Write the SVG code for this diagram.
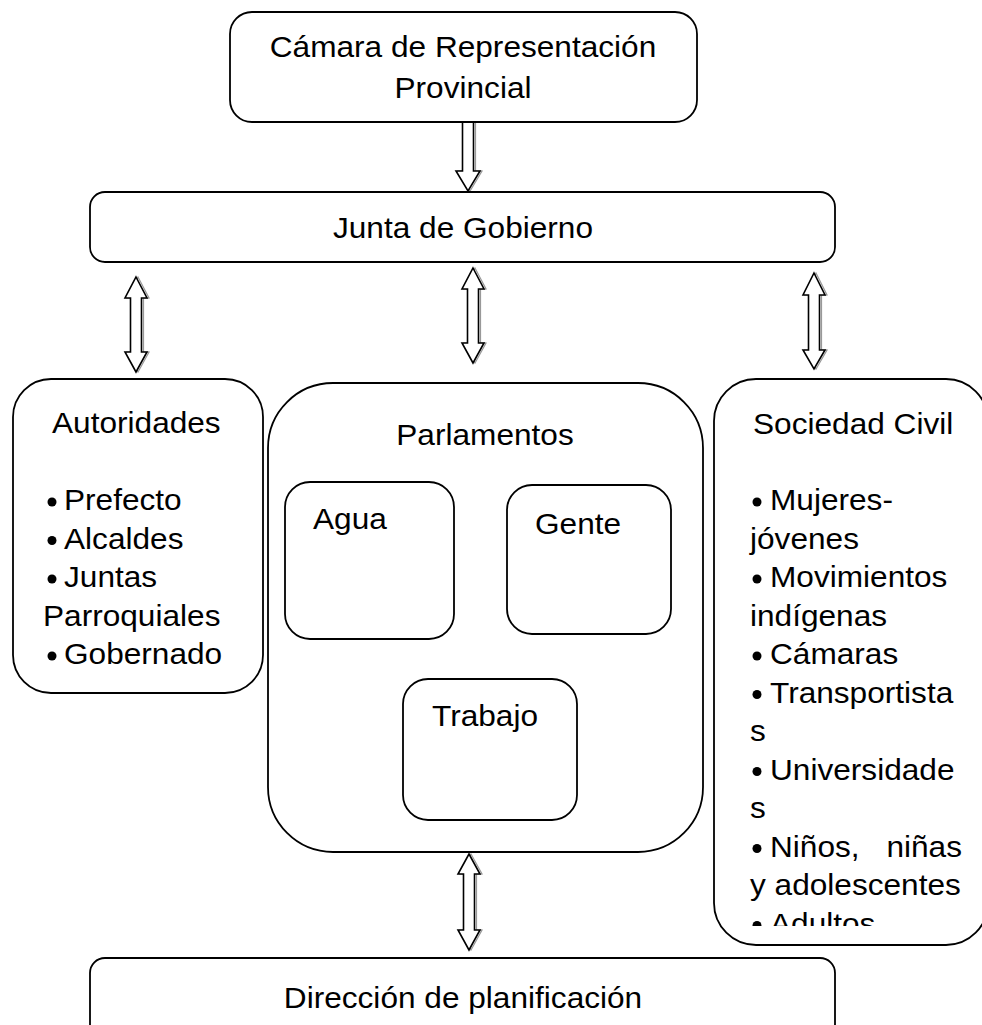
<svg xmlns="http://www.w3.org/2000/svg" width="982" height="1025" viewBox="0 0 982 1025">
<style>
.box{fill:#fff;stroke:#000;stroke-width:1.8}
.t{font-family:"Liberation Sans",Arial,sans-serif;font-size:29px;fill:#000}
.m{text-anchor:middle}
.e{text-anchor:end}
.arr{fill:#fff;stroke:#000;stroke-width:1.6;stroke-linejoin:miter}
.sh{fill:none;stroke:#999;stroke-width:1.2}
.dot{fill:#000}
</style>
<defs>
<clipPath id="socClip"><rect x="700" y="370" width="300" height="556"/></clipPath>
</defs>
<rect width="982" height="1025" fill="#fff"/>

<g id="connectors">
<g transform="translate(2,0)" class="sh">
<polygon points="462.5,122 473.5,122 473.5,171 480,171 468,191 456,171 462.5,171"/>
<polygon points="136,277 147,298 141.5,298 141.5,352 147,352 136,372 125,352 130.5,352 130.5,298 125,298"/>
<polygon points="473,268 484,289 478.5,289 478.5,343 484,343 473,363 462,343 467.5,343 467.5,289 462,289"/>
<polygon points="814,273 825,295 819.5,295 819.5,350 825,350 814,369 803,350 808.5,350 808.5,295 803,295"/>
<polygon points="469,854 480,874 474.5,874 474.5,930 480,930 469,950 458,930 463.5,930 463.5,874 458,874"/>
</g>
<polygon class="arr" points="462.5,122 473.5,122 473.5,171 480,171 468,191 456,171 462.5,171"/>
<polygon class="arr" points="136,277 147,298 141.5,298 141.5,352 147,352 136,372 125,352 130.5,352 130.5,298 125,298"/>
<polygon class="arr" points="473,268 484,289 478.5,289 478.5,343 484,343 473,363 462,343 467.5,343 467.5,289 462,289"/>
<polygon class="arr" points="814,273 825,295 819.5,295 819.5,350 825,350 814,369 803,350 808.5,350 808.5,295 803,295"/>
<polygon class="arr" points="469,854 480,874 474.5,874 474.5,930 480,930 469,950 458,930 463.5,930 463.5,874 458,874"/>
</g>

<g id="camara">
<rect class="box" x="230" y="12" width="467" height="110" rx="22"/>
<text class="t m" transform="translate(463,57) scale(1.09,1)">Cámara de Representación</text>
<text class="t m" transform="translate(463,98) scale(1.09,1)">Provincial</text>
</g>

<g id="junta">
<rect class="box" x="90" y="192" width="745" height="70" rx="15"/>
<text class="t m" transform="translate(463,238) scale(1.09,1)">Junta de Gobierno</text>
</g>

<g id="autoridades">
<rect class="box" x="13" y="379" width="250" height="314" rx="38"/>
<text class="t" transform="translate(52,433) scale(1.09,1)">Autoridades</text>
<circle class="dot" cx="52" cy="502" r="4.5"/>
<text class="t" transform="translate(64,510) scale(1.09,1)">Prefecto</text>
<circle class="dot" cx="52" cy="540.5" r="4.5"/>
<text class="t" transform="translate(64,548.5) scale(1.09,1)">Alcaldes</text>
<circle class="dot" cx="52" cy="579" r="4.5"/>
<text class="t" transform="translate(64,587) scale(1.09,1)">Juntas</text>
<text class="t" transform="translate(43,625.5) scale(1.09,1)">Parroquiales</text>
<circle class="dot" cx="52" cy="656" r="4.5"/>
<text class="t" transform="translate(64,664) scale(1.09,1)">Gobernado</text>
</g>

<g id="parlamentos">
<rect class="box" x="268" y="383" width="435" height="469" rx="65"/>
<text class="t m" transform="translate(485,445) scale(1.09,1)">Parlamentos</text>
</g>

<g id="agua">
<rect class="box" x="285" y="482" width="169" height="157" rx="25"/>
<text class="t" transform="translate(313,529) scale(1.09,1)">Agua</text>
</g>

<g id="gente">
<rect class="box" x="507" y="485" width="164" height="149" rx="25"/>
<text class="t" transform="translate(535,534) scale(1.09,1)">Gente</text>
</g>

<g id="trabajo">
<rect class="box" x="403" y="679" width="174" height="141" rx="25"/>
<text class="t" transform="translate(432,726) scale(1.09,1)">Trabajo</text>
</g>

<g id="sociedad">
<rect class="box" x="714" y="379" width="274" height="566" rx="42"/>
<text class="t" transform="translate(753,434) scale(1.09,1)">Sociedad Civil</text>
<circle class="dot" cx="757" cy="502" r="4.5"/>
<text class="t" transform="translate(770,510) scale(1.09,1)">Mujeres-</text>
<text class="t" transform="translate(750,548.5) scale(1.09,1)">jóvenes</text>
<circle class="dot" cx="757" cy="579" r="4.5"/>
<text class="t" transform="translate(770,587) scale(1.09,1)">Movimientos</text>
<text class="t" transform="translate(750,625.5) scale(1.09,1)">indígenas</text>
<circle class="dot" cx="757" cy="656" r="4.5"/>
<text class="t" transform="translate(770,664) scale(1.09,1)">Cámaras</text>
<circle class="dot" cx="757" cy="694.5" r="4.5"/>
<text class="t" transform="translate(770,702.5) scale(1.09,1)">Transportista</text>
<text class="t" transform="translate(750,741) scale(1.09,1)">s</text>
<circle class="dot" cx="757" cy="771.5" r="4.5"/>
<text class="t" transform="translate(770,779.5) scale(1.09,1)">Universidade</text>
<text class="t" transform="translate(750,818) scale(1.09,1)">s</text>
<circle class="dot" cx="757" cy="848.5" r="4.5"/>
<text class="t" transform="translate(770,856.5) scale(1.09,1)">Niños,</text>
<text class="t e" transform="translate(962,856.5) scale(1.09,1)">niñas</text>
<text class="t" transform="translate(750,895) scale(1.09,1)">y adolescentes</text>
<g clip-path="url(#socClip)">
<circle class="dot" cx="757" cy="925.5" r="4.5"/>
<text class="t" transform="translate(770,933.5) scale(1.09,1)">Adultos</text>
</g>
</g>

<g id="direccion">
<rect class="box" x="90" y="958" width="745" height="90" rx="15"/>
<text class="t m" transform="translate(463,1008) scale(1.09,1)">Dirección de planificación</text>
</g>
</svg>
